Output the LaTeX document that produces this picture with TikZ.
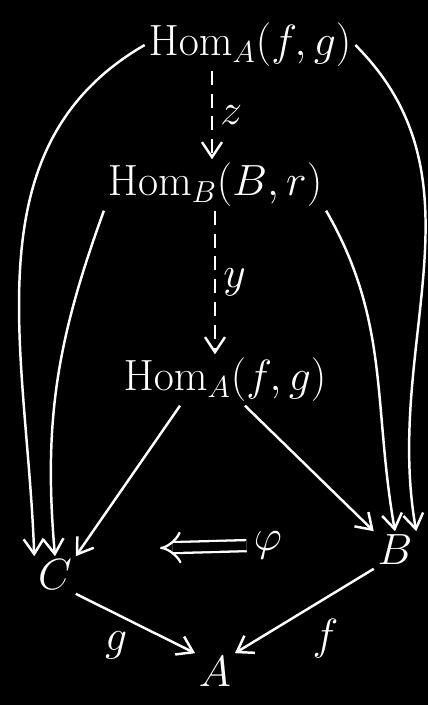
\documentclass[tikz,border=0pt]{standalone}
\usepackage{xcolor}
\definecolor{cInk}{HTML}{FFFFFF}
\definecolor{cBoard}{HTML}{000000}
\usepackage{tikz}
\usetikzlibrary{positioning,arrows.meta}
\tikzset{
  node-hom/.style={text=cInk,font=\fontsize{25}{29}\selectfont,inner sep=2pt},
  node-obj/.style={text=cInk,font=\fontsize{40}{44}\selectfont,inner sep=2pt},
  node-lbl/.style={text=cInk,font=\fontsize{28}{32}\selectfont,inner sep=4pt},
  arrow/.style={-{Straight Barb[length=3mm,width=4mm]},line width=1.4pt,draw=cInk},
  arrow-dashed/.style={arrow,dash pattern=on 8pt off 5pt},
  arrow-double/.style={-{Implies},double=cBoard,double distance=5pt,line width=1.3pt,draw=cInk},
}
\begin{document}
\begin{tikzpicture}[x=0.2mm,y=-0.2mm]
  \useasboundingbox (0,0) rectangle (428,705);
  \fill[cBoard] (0,0) rectangle (428,705);
  \node[node-hom] (hom-top) at (250,45)  {$\mathrm{Hom}_A(f,g)$};
  \node[node-hom] (hom-mid) at (215,185) {$\mathrm{Hom}_B(B,r)$};
  \node[node-hom] (hom-bot) at (225,380) {$\mathrm{Hom}_A(f,g)$};
  \node[node-obj] (C) at (55,575)  {$C$};
  \node[node-obj] (B) at (395,550) {$B$};
  \node[node-obj] (A) at (215,672) {$A$};
  \node[node-lbl] (phi) at (268,545) {$\varphi$};
  \coordinate (phi-end) at (160,548);
  % dashed chain
  \draw[arrow-dashed] ([xshift=-7.6mm]hom-top.south) -- ([xshift=-7.6mm]hom-top.south |- hom-mid.north)
    node[node-lbl,midway,right] {$z$};
  \draw[arrow-dashed] (hom-mid.south) -- (hom-mid.south |- hom-bot.north)
    node[node-lbl,midway,right] {$y$};
  % long curves
  \draw[arrow] (hom-top.west) to[out=210,in=92] (C.north west);
  \draw[arrow] (hom-top.east) to[out=-45,in=100] (B.north east);
  \draw[arrow] (hom-mid.south west) to[out=250,in=95] (C.north);
  \draw[arrow] (hom-mid.south east) to[out=-60,in=100] (B.north);
  % square
  \draw[arrow] ([xshift=-9mm]hom-bot.south) -- (C.north east);
  \draw[arrow] ([xshift=4mm]hom-bot.south) -- (B.north west);
  \draw[arrow] (C.south east) -- (A.north west) node[node-lbl,midway,below left] {$g$};
  \draw[arrow] (B.south west) -- (A.north east) node[node-lbl,midway,below right] {$f$};
  \draw[arrow-double] (phi) -- (phi-end);
\end{tikzpicture}
\end{document}
